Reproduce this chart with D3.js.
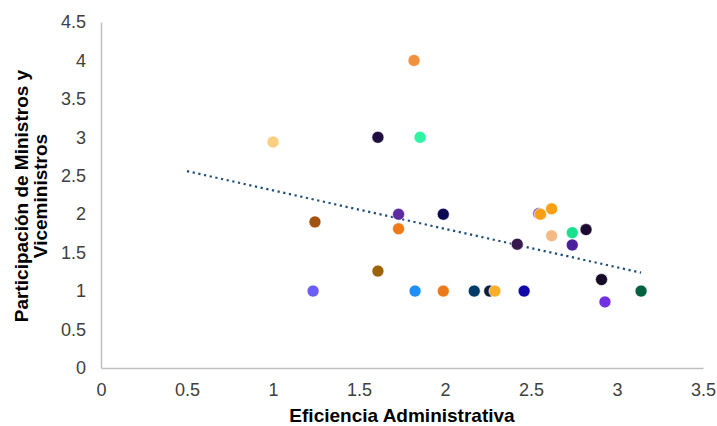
<!DOCTYPE html>
<html>
<head>
<meta charset="utf-8">
<script src="https://cdn.jsdelivr.net/npm/d3@7"></script>
<style>
  body { margin: 0; background: #fff; }
  text { font-family: "Liberation Sans", Arial, sans-serif; }
</style>
</head>
<body>
<div id="chart"></div>
<script>
// data
var eficiencia = [1.82, 1.0, 1.61, 1.855, 1.244, 1.73, 1.99, 1.73, 1.61, 1.233, 1.826, 1.99, 2.17, 2.26, 2.29, 2.46,
                  2.545, 2.555, 2.62, 2.62, 2.74, 2.82, 2.74, 2.42, 2.91, 2.93, 3.14];
var participacion = [4.0, 2.94, 3.0, 3.0, 1.9, 2.0, 2.0, 1.81, 1.26, 1.0, 1.0, 1.0, 1.0, 1.0, 1.0, 1.0,
                     2.01, 2.0, 2.07, 1.72, 1.76, 1.8, 1.6, 1.61, 1.15, 0.86, 1.0];
var colores = ["#F0913D", "#FBCE82", "#1F0E3F", "#2DF4A2", "#A3520F", "#5B2C9F", "#0C0752", "#EF7A1A", "#9C6408",
               "#6C5CF8", "#1E8FF8", "#EF7A1A", "#003B6A", "#0E1D3A", "#F9AE2E", "#1208A8",
               "#7B5CC8", "#F8A012", "#F8A012", "#F3BA88", "#18E08E", "#1B0B31", "#4B1E9B", "#36194F", "#170A29", "#7131E0", "#006140"];
var trendX = [0.5, 3.14];
var trendY = [2.56, 1.24];
var xTicks = [0, 0.5, 1, 1.5, 2, 2.5, 3, 3.5];
var yTicks = [0, 0.5, 1, 1.5, 2, 2.5, 3, 3.5, 4, 4.5];

var width = 717, height = 426;
var margin = {left: 101, top: 22, right: 14, bottom: 58};

var svg = d3.select("#chart").append("svg")
    .attr("width", width)
    .attr("height", height);

var x = d3.scaleLinear().domain([0, 3.5]).range([margin.left, width - margin.right]);
var y = d3.scaleLinear().domain([0, 4.5]).range([height - margin.bottom, margin.top]);

// axes
var xAxis = svg.append("g")
    .attr("transform", "translate(0," + y(0) + ")")
    .call(d3.axisBottom(x).tickValues(xTicks).tickSize(0).tickPadding(15).tickFormat(d3.format("")));
var yAxis = svg.append("g")
    .attr("transform", "translate(" + x(0) + ",0)")
    .call(d3.axisLeft(y).tickValues(yTicks).tickSize(0).tickPadding(15).tickFormat(d3.format("")));

[xAxis, yAxis].forEach(function(a) {
  a.select(".domain").attr("stroke", "#BFBFBF").attr("stroke-width", 1.5);
  a.selectAll("text")
      .style("font-family", "'Liberation Sans', Arial, sans-serif")
      .style("font-size", "18px")
      .attr("fill", "#404040");
});

// trend line
var pts = trendX.map(function(d, i) { return [d, trendY[i]]; });
svg.append("path")
    .datum(pts)
    .attr("fill", "none")
    .attr("stroke", "#1F4E79")
    .attr("stroke-width", 2.2)
    .attr("stroke-dasharray", "2.2,3.6")
    .attr("d", d3.line().x(function(d) { return x(d[0]); }).y(function(d) { return y(d[1]); }));

// points
svg.append("g").selectAll("circle")
    .data(eficiencia)
    .enter().append("circle")
    .attr("cx", function(d) { return x(d); })
    .attr("cy", function(d, i) { return y(participacion[i]); })
    .attr("r", 6)
    .attr("fill", function(d, i) { return colores[i]; })
    .attr("stroke", "#fff")
    .attr("stroke-width", 0.6);

// titles
svg.append("text")
    .attr("x", 402)
    .attr("y", 422)
    .attr("text-anchor", "middle")
    .style("font-size", "19px")
    .style("font-weight", "bold")
    .attr("fill", "#000")
    .text("Eficiencia Administrativa");

var yt = svg.append("text")
    .attr("transform", "translate(28,196) rotate(-90)")
    .attr("text-anchor", "middle")
    .style("font-size", "19px")
    .style("font-weight", "bold")
    .attr("fill", "#000");
yt.append("tspan").attr("x", 0).attr("y", 0).text("Participación de Ministros y");
yt.append("tspan").attr("x", 0).attr("y", 19).text("Viceministros");
</script>
</body>
</html>
